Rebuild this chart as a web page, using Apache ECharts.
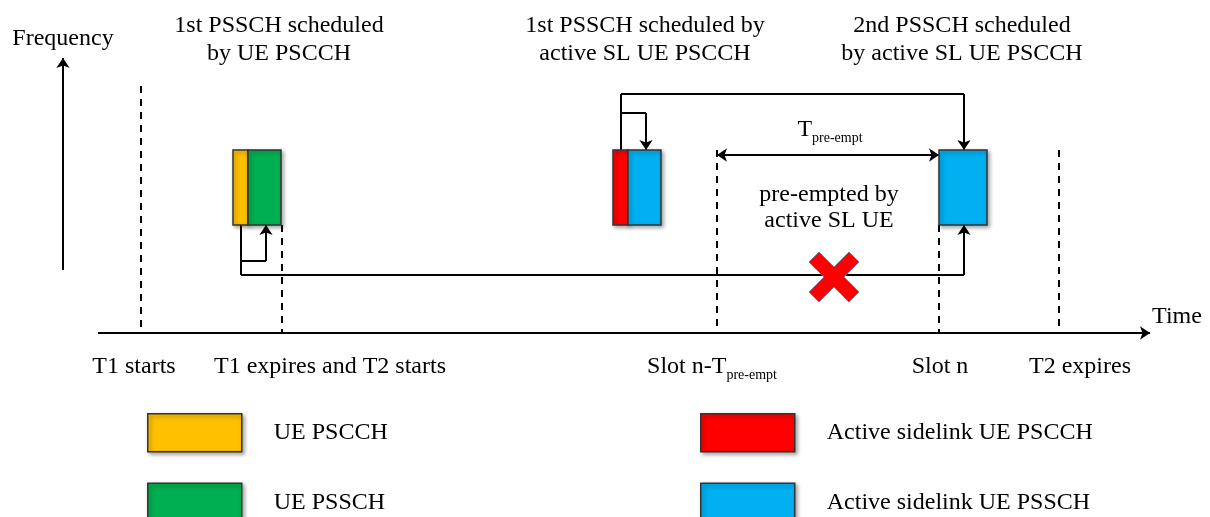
<!DOCTYPE html>
<html>
<head>
<meta charset="utf-8">
<script src="https://cdn.jsdelivr.net/npm/echarts@6/dist/echarts.min.js"></script>
<style>html,body{margin:0;padding:0;background:#fff}#c{width:1210px;height:517px}</style>
</head>
<body>
<div id="c"></div>
<script>
// ---- data (diagram units: time on x, frequency on y) ----
const eventNames = ['T1 starts', 'T1 expires and T2 starts', 'Slot n-T{sub|pre-empt}', 'Slot n', 'T2 expires'];
const eventTimes = [141, 282, 717, 939, 1059];
const eventLabelX = [134, 330, 712, 940, 1080];
const eventTop = [86, 225, 150, 225, 150];

const uePscch = [[233, 248, 150, 225]];
const uePssch = [[248, 281, 150, 225]];
const slPscch = [[613, 628, 150, 225]];
const slPssch = [[628, 661, 150, 225], [939, 987, 150, 225]];

const links = [
  [[241, 225], [241, 261], [266, 261], [266, 225]],
  [[241, 225], [241, 275], [964, 275], [964, 225]],
  [[621, 150], [621, 94], [964, 94], [964, 150]],
  [[621, 113], [646, 113], [646, 150]],
  [[98, 333], [1150, 333]],
  [[63, 270], [63, 58]]
];
const preemptWindow = [[717, 155], [939, 155]];
const preemptMark = [[834, 277]];

const titles = [
  [279, 40, '1st PSSCH scheduled\nby UE PSCCH'],
  [645, 40, '1st PSSCH scheduled by\nactive SL UE PSCCH'],
  [962, 40, '2nd PSSCH scheduled\nby active SL UE PSCCH']
];
const notes = [
  [830, 130, 'T{sub|pre-empt}'],
  [829, 208, 'pre-empted by\nactive SL UE']
];
const axisNames = [[63, 39, 'Frequency'], [1177, 317, 'Time']];
const legendLeft = ['UE PSCCH', 'UE PSSCH'];
const legendRight = ['Active sidelink UE PSCCH', 'Active sidelink UE PSSCH'];

// ---- chart ----
const FONT = 'Liberation Serif';
const INK = '#000';
const rich = { sub: { fontFamily: FONT, fontSize: 14, color: INK, padding: [16, 0, 0, 0] } };
const chart = echarts.init(document.getElementById('c'));

function blockSeries(name, color, data) {
  return {
    name, type: 'custom', data, z: 5,
    itemStyle: { color },
    encode: { x: [0, 1], y: [2, 3] },
    renderItem(params, api) {
      const p0 = api.coord([api.value(0), api.value(2)]);
      const p1 = api.coord([api.value(1), api.value(3)]);
      return {
        type: 'rect',
        shape: { x: p0[0], y: p0[1], width: p1[0] - p0[0], height: p1[1] - p0[1] },
        style: {
          fill: api.visual('color'), stroke: '#333', lineWidth: 1.5,
          shadowColor: 'rgba(0,0,0,0.35)', shadowBlur: 4, shadowOffsetX: 2, shadowOffsetY: 2
        }
      };
    }
  };
}
function textSeries(data, extra) {
  return {
    type: 'scatter', symbolSize: 0, silent: true, z: 10, data,
    itemStyle: { opacity: 1, color: INK },
    label: Object.assign({
      show: true, position: 'inside', formatter: p => p.value[2], opacity: 1,
      fontFamily: FONT, fontSize: 24, color: INK, align: 'center', verticalAlign: 'middle',
      textBorderWidth: 0, rich
    }, extra || {})
  };
}
const legendCommon = {
  orient: 'vertical', itemWidth: 94, itemHeight: 38, itemGap: 30, icon: 'rect',
  selectedMode: false, height: 140, padding: 0,
  textStyle: { fontFamily: FONT, fontSize: 24, color: INK, padding: [0, 0, 0, 27] },
  itemStyle: { borderColor: '#333', borderWidth: 1.5, shadowColor: 'rgba(0,0,0,0.35)', shadowBlur: 4, shadowOffsetX: 2, shadowOffsetY: 2 }
};

// split polylines: plain segments + final arrowed segment
const plainSegs = [], arrowSegs = [];
links.forEach(pts => {
  for (let i = 0; i < pts.length - 1; i++) {
    (i === pts.length - 2 ? arrowSegs : plainSegs).push({ coords: [pts[i], pts[i + 1]] });
  }
});
const lineStyle = { color: INK, width: 2, opacity: 1 };

chart.setOption({
  animation: false,
  grid: { left: 0, right: 0, top: 0, bottom: 0 },
  xAxis: { type: 'value', min: 0, max: 1210, show: false },
  yAxis: { type: 'value', min: 0, max: 517, inverse: true, show: false },
  legend: [
    Object.assign({ left: 147, top: 413, data: legendLeft }, legendCommon),
    Object.assign({ left: 700, top: 413, data: legendRight }, legendCommon)
  ],
  series: [
    {
      type: 'lines', coordinateSystem: 'cartesian2d', silent: true, z: 2,
      lineStyle: { color: INK, width: 2, type: [7, 6], opacity: 1 },
      symbol: 'none',
      data: eventTimes.map((t, i) => ({ coords: [[t, eventTop[i]], [t, 333]] }))
    },
    {
      type: 'lines', coordinateSystem: 'cartesian2d', silent: true, z: 3,
      lineStyle, symbol: 'none', data: plainSegs
    },
    {
      type: 'lines', coordinateSystem: 'cartesian2d', silent: true, z: 3,
      lineStyle, symbol: ['none', 'arrow'], symbolSize: 10, data: arrowSegs
    },
    {
      type: 'lines', coordinateSystem: 'cartesian2d', silent: true, z: 3,
      lineStyle, symbol: ['arrow', 'arrow'], symbolSize: 10,
      data: [{ coords: preemptWindow }]
    },
    blockSeries('UE PSCCH', '#FFC000', uePscch),
    blockSeries('UE PSSCH', '#00B050', uePssch),
    blockSeries('Active sidelink UE PSCCH', '#FF0000', slPscch),
    blockSeries('Active sidelink UE PSSCH', '#00B0F0', slPssch),
    {
      type: 'scatter', silent: true, z: 8, data: preemptMark,
      symbol: 'path://M0,10 L10,0 L25,15 L40,0 L50,10 L35,25 L50,40 L40,50 L25,35 L10,50 L0,40 L15,25 Z',
      symbolSize: [50, 50],
      itemStyle: { color: '#FF0000', borderColor: '#5577aa', borderWidth: 0.8, opacity: 1 }
    },
    textSeries(titles, { lineHeight: 28 }),
    textSeries(notes, { lineHeight: 26 }),
    textSeries(axisNames),
    textSeries(eventNames.map((n, i) => [eventLabelX[i], 367, n]))
  ]
});
</script>
</body>
</html>
